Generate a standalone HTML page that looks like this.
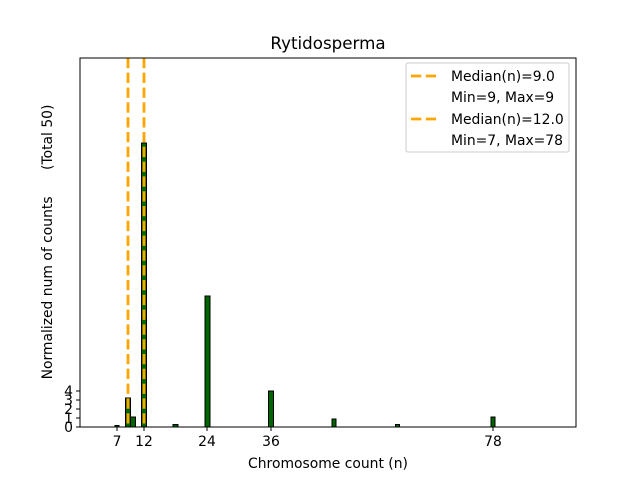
<!DOCTYPE html>
<html><head><style>body{margin:0;background:#fff}</style></head><body>
<svg width="640" height="480" xmlns="http://www.w3.org/2000/svg" font-family="DejaVu Sans, Liberation Sans, sans-serif">
<rect width="640" height="480" fill="#fff"/>
<g fill="#006400" stroke="#000" stroke-width="1">
<rect x="115" y="425.5" width="4" height="1.5"/>
<rect x="125.5" y="398" width="5" height="29"/>
<rect x="130.5" y="417" width="5" height="10"/>
<rect x="141.5" y="143" width="5" height="284"/>
<rect x="173" y="424.5" width="5" height="2.5"/>
<rect x="205" y="296" width="5" height="131"/>
<rect x="268.5" y="391" width="5" height="36"/>
<rect x="332" y="419" width="4" height="8"/>
<rect x="395.5" y="424.5" width="4" height="2.5"/>
<rect x="491" y="417" width="4" height="10"/>
</g>
<g stroke="#FFA500" stroke-width="2.8" stroke-dasharray="10.3,4.5">
<line x1="128" y1="58" x2="128" y2="427"/>
<line x1="144" y1="58" x2="144" y2="427"/>
</g>
<rect x="80" y="58" width="496" height="369" fill="none" stroke="#000" stroke-width="1"/>
<g stroke="#000">
<line x1="117" y1="427" x2="117" y2="431"/><line x1="144" y1="427" x2="144" y2="431"/>
<line x1="207" y1="427" x2="207" y2="431"/><line x1="271" y1="427" x2="271" y2="431"/>
<line x1="493" y1="427" x2="493" y2="431"/>
<line x1="76" y1="427" x2="80" y2="427"/><line x1="76" y1="418" x2="80" y2="418"/>
<line x1="76" y1="409" x2="80" y2="409"/><line x1="76" y1="400" x2="80" y2="400"/>
<line x1="76" y1="391" x2="80" y2="391"/>
</g>
<g font-size="13.9" fill="#000" text-anchor="middle">
<text x="117" y="446">7</text><text x="144" y="446">12</text><text x="207" y="446">24</text>
<text x="271" y="446">36</text><text x="493" y="446">78</text>
<text x="328" y="468">Chromosome count (n)</text>
</g>
<g font-size="13.9" fill="#000" text-anchor="end">
<text x="73" y="432">0</text><text x="73" y="423">1</text><text x="73" y="414">2</text>
<text x="73" y="405">3</text><text x="73" y="396">4</text>
</g>
<text x="52" y="242" font-size="13.9" text-anchor="middle" transform="rotate(-90 52 242)" xml:space="preserve">Normalized num of counts      (Total 50)</text>
<text x="328" y="49" font-size="16.7" text-anchor="middle">Rytidosperma</text>
<rect x="406" y="63" width="163" height="89" rx="2" fill="#fff" stroke="#ccc"/>
<g stroke="#FFA500" stroke-width="2.8" stroke-dasharray="10.3,4.5">
<line x1="411" y1="76" x2="439" y2="76"/>
<line x1="411" y1="119" x2="439" y2="119"/>
</g>
<g font-size="13.9" fill="#000">
<text x="451" y="81">Median(n)=9.0</text>
<text x="451" y="102">Min=9, Max=9</text>
<text x="451" y="124">Median(n)=12.0</text>
<text x="451" y="145">Min=7, Max=78</text>
</g>
</svg>
</body></html>
